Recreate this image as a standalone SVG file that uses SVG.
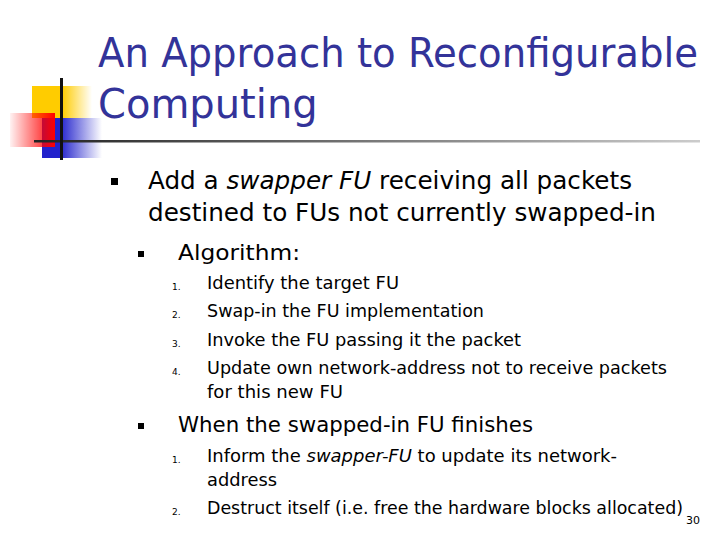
<svg xmlns="http://www.w3.org/2000/svg" width="720" height="540" viewBox="0 0 720 540">
<defs>
<linearGradient id="gy" x1="0" x2="1"><stop offset="0.5" stop-color="#ffcc00"/><stop offset="1" stop-color="#ffcc00" stop-opacity="0"/></linearGradient>
<linearGradient id="gr" x1="0" x2="1"><stop offset="0" stop-color="#ff0000" stop-opacity="0.05"/><stop offset="1" stop-color="#ff0000"/></linearGradient>
<linearGradient id="gb" x1="0" x2="1"><stop offset="0.3" stop-color="#2222cc"/><stop offset="1" stop-color="#2222cc" stop-opacity="0"/></linearGradient>
<linearGradient id="gl" x1="0" x2="1"><stop offset="0" stop-color="#222"/><stop offset="1" stop-color="#ccc"/></linearGradient>
<style>
.t{font-family:"DejaVu Sans",Verdana,sans-serif;fill:#000}
.ti{font-family:"DejaVu Sans",Verdana,sans-serif;fill:#333399;font-size:40px}
.l1{font-size:24px}.l2{font-size:22px}.l3{font-size:18px}.n{font-size:9px}
</style>
</defs>
<g id="logo">
<rect x="32" y="86" width="60" height="32" fill="url(#gy)"/>
<rect x="42" y="118" width="60" height="40" fill="url(#gb)"/>
<rect x="10" y="113" width="45" height="34" fill="url(#gr)"/>
<rect x="34" y="140" width="666" height="2.5" fill="url(#gl)"/>
<rect x="60" y="78" width="3" height="82" fill="#111"/>
</g>
<g id="title">
<text class="ti" x="98" y="67" textLength="600" lengthAdjust="spacingAndGlyphs">An Approach to Reconfigurable</text>
<text class="ti" x="98" y="118">Computing</text>
</g>
<g id="body">
<rect x="111" y="178" width="7" height="7"/>
<text class="t l1" x="148" y="189" textLength="484" lengthAdjust="spacingAndGlyphs">Add a <tspan font-style="italic">swapper FU</tspan> receiving all packets</text>
<text class="t l1" x="148" y="221" textLength="508" lengthAdjust="spacingAndGlyphs">destined to FUs not currently swapped-in</text>
<rect x="138" y="251" width="6" height="6"/>
<text class="t l2" x="178" y="260" textLength="122" lengthAdjust="spacingAndGlyphs">Algorithm:</text>
<text class="t n" x="172" y="290">1.</text>
<text class="t l3" x="207" y="289" textLength="192" lengthAdjust="spacingAndGlyphs">Identify the target FU</text>
<text class="t n" x="172" y="318">2.</text>
<text class="t l3" x="207" y="317" textLength="277" lengthAdjust="spacingAndGlyphs">Swap-in the FU implementation</text>
<text class="t n" x="172" y="347">3.</text>
<text class="t l3" x="207" y="346" textLength="314" lengthAdjust="spacingAndGlyphs">Invoke the FU passing it the packet</text>
<text class="t n" x="172" y="375">4.</text>
<text class="t l3" x="207" y="374" textLength="460" lengthAdjust="spacingAndGlyphs">Update own network-address not to receive packets</text>
<text class="t l3" x="207" y="398" textLength="136" lengthAdjust="spacingAndGlyphs">for this new FU</text>
<rect x="138" y="423" width="6" height="6"/>
<text class="t l2" x="178" y="432" textLength="355" lengthAdjust="spacingAndGlyphs">When the swapped-in FU finishes</text>
<text class="t n" x="172" y="463">1.</text>
<text class="t l3" x="207" y="462" textLength="410" lengthAdjust="spacingAndGlyphs">Inform the <tspan font-style="italic">swapper-FU</tspan> to update its network-</text>
<text class="t l3" x="207" y="486" textLength="70" lengthAdjust="spacingAndGlyphs">address</text>
<text class="t n" x="172" y="515">2.</text>
<text class="t l3" x="207" y="514" textLength="476" lengthAdjust="spacingAndGlyphs">Destruct itself (i.e. free the hardware blocks allocated)</text>
<text class="t" x="686" y="524" font-size="11">30</text>
</g>
</svg>
